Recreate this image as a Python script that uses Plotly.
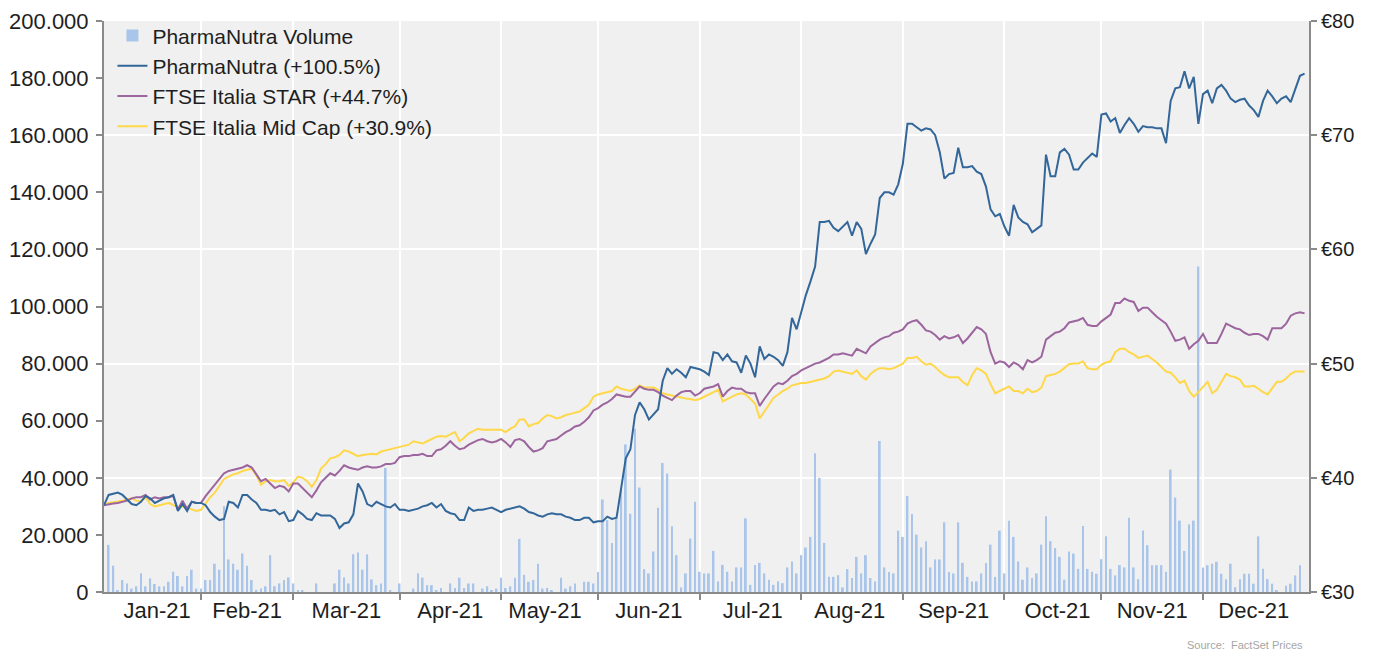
import pandas as pd
import plotly.graph_objects as go

# ---- x categories: every weekday of 2021 (261 sessions) ----
dates = pd.bdate_range("2021-01-01", "2021-12-31")

# ---- PharmaNutra price (EUR), month by month ----
pharma_jan = [37.6, 38.5, 38.6, 38.7, 38.5, 38.1, 37.7, 37.6, 37.9, 38.4, 38.2, 37.8, 38.0, 38.2, 38.3, 38.5, 37.1, 37.7, 37.1, 37.9, 37.8]
pharma_feb = [37.8, 37.6, 37.0, 36.6, 36.3, 36.4, 37.9, 37.8, 37.4, 38.5, 38.5, 38.1, 37.8, 37.2, 37.2, 37.1, 37.2, 36.8, 37.0, 36.2]
pharma_mar = [36.3, 37.1, 36.8, 36.4, 36.3, 36.9, 36.7, 36.7, 36.7, 36.4, 35.6, 36.0, 36.1, 36.8, 39.5, 38.8, 37.7, 37.5, 37.9, 37.7, 37.5, 37.4, 37.7]
pharma_apr = [37.2, 37.2, 37.1, 37.2, 37.3, 37.5, 37.6, 37.8, 37.4, 37.7, 37.1, 36.9, 36.8, 36.3, 36.3, 37.4, 37.1, 37.2, 37.2, 37.3, 37.4, 37.2]
pharma_may = [37.0, 37.2, 37.3, 37.4, 37.5, 37.3, 37.0, 36.9, 36.7, 36.6, 36.8, 36.9, 36.8, 36.8, 36.6, 36.5, 36.3, 36.3, 36.5, 36.5, 36.1]
pharma_jun = [36.2, 36.2, 36.6, 36.4, 36.5, 39.0, 41.7, 42.5, 45.5, 46.6, 46.0, 45.1, 45.6, 46.0, 48.5, 49.6, 49.1, 49.5, 49.2, 48.8, 49.7, 49.6]
pharma_jul = [49.5, 49.3, 49.0, 51.0, 50.9, 50.3, 50.8, 50.2, 50.1, 49.2, 50.7, 50.0, 48.8, 51.5, 50.4, 50.8, 50.6, 50.3, 49.8, 51.0, 54.0, 53.0]
pharma_aug = [54.5, 56.0, 57.2, 58.5, 62.4, 62.4, 62.5, 61.9, 61.6, 62.0, 62.4, 61.2, 62.4, 61.8, 59.6, 60.5, 61.3, 64.5, 65.0, 65.0, 64.8, 65.7]
pharma_sep = [67.5, 71.0, 71.0, 70.7, 70.4, 70.6, 70.5, 70.0, 68.5, 66.2, 66.6, 66.7, 68.9, 67.2, 67.2, 67.3, 66.8, 66.6, 65.5, 63.5, 62.9, 63.1]
pharma_oct = [62.0, 61.2, 63.9, 62.8, 62.4, 62.2, 61.5, 61.8, 62.1, 68.3, 66.4, 66.4, 68.5, 68.8, 68.3, 67.0, 67.0, 67.6, 68.0, 68.4, 68.1]
pharma_nov = [71.8, 71.9, 71.2, 71.5, 70.2, 70.9, 71.5, 71.0, 70.3, 70.8, 70.7, 70.7, 70.6, 70.6, 69.3, 73.0, 74.1, 74.2, 75.6, 74.1, 75.1, 71.0]
pharma_dec = [73.6, 73.9, 72.8, 74.1, 74.4, 73.9, 73.2, 72.9, 73.1, 73.2, 72.6, 72.2, 71.6, 73.0, 73.9, 73.4, 72.8, 73.2, 73.4, 72.9, 74.1, 75.2, 75.4]

# ---- FTSE Italia STAR (rebased to PharmaNutra, EUR) ----
star_jan = [37.6, 37.7, 37.75, 37.8, 37.9, 38.0, 38.2, 38.3, 38.3, 38.5, 38.1, 38.3, 38.2, 38.3, 38.3, 38.4, 37.2, 38.0, 37.3, 37.9, 37.8]
star_feb = [37.8, 38.4, 38.9, 39.3, 39.9, 40.4, 40.6, 40.7, 40.8, 40.9, 41.1, 40.9, 40.3, 39.7, 39.9, 39.5, 39.1, 39.3, 39.2, 38.8]
star_mar = [39.5, 39.5, 39.1, 38.7, 38.3, 38.9, 39.6, 40.0, 40.4, 40.2, 40.6, 41.1, 40.9, 40.8, 40.7, 40.9, 41.0, 40.9, 40.9, 41.0, 41.2, 41.2, 41.3]
star_apr = [41.8, 41.9, 41.9, 42.0, 42.0, 42.1, 41.9, 41.9, 42.4, 42.5, 42.8, 43.2, 42.8, 42.5, 42.6, 42.9, 43.1, 43.3, 43.4, 43.2, 43.1, 43.2]
star_may = [43.4, 43.1, 42.7, 43.3, 43.4, 43.2, 42.7, 42.3, 42.4, 42.6, 43.2, 43.3, 43.4, 43.7, 44.0, 44.2, 44.5, 44.6, 44.9, 45.3, 45.9]
star_jun = [46.1, 46.4, 46.6, 46.9, 47.3, 47.2, 47.1, 47.1, 47.6, 48.0, 47.8, 47.7, 47.7, 47.5, 47.2, 47.0, 46.8, 47.2, 47.5, 47.6, 47.6, 47.2]
star_jul = [47.4, 47.8, 47.9, 48.0, 48.2, 47.1, 47.6, 47.9, 47.8, 47.8, 47.5, 47.4, 47.4, 46.3, 46.9, 47.5, 48.0, 48.3, 48.2, 48.5, 48.9, 49.1]
star_aug = [49.4, 49.6, 49.8, 50.0, 50.1, 50.3, 50.5, 50.8, 50.8, 50.9, 50.8, 50.7, 51.3, 51.1, 50.9, 51.5, 51.8, 52.1, 52.3, 52.4, 52.7, 52.8]
star_sep = [53.0, 53.5, 53.7, 53.8, 53.4, 52.9, 52.8, 52.5, 52.1, 52.4, 52.2, 52.3, 52.5, 51.8, 52.2, 52.7, 53.2, 53.0, 52.6, 51.0, 50.0, 50.2]
star_oct = [50.1, 49.7, 50.1, 49.9, 49.5, 50.3, 50.1, 50.3, 50.6, 52.1, 52.4, 52.7, 52.8, 53.1, 53.6, 53.7, 53.8, 54.0, 53.4, 53.3, 53.3]
star_nov = [53.7, 54.0, 54.3, 55.3, 55.3, 55.7, 55.5, 55.4, 54.6, 54.9, 54.9, 54.5, 54.1, 53.8, 53.5, 52.8, 52.0, 52.1, 52.3, 51.3, 51.7, 52.0]
star_dec = [52.6, 51.8, 51.8, 51.8, 52.6, 53.5, 53.3, 53.1, 53.0, 52.7, 52.5, 52.6, 52.6, 52.4, 52.1, 53.1, 53.1, 53.1, 53.5, 54.2, 54.4, 54.5, 54.4]

# ---- FTSE Italia Mid Cap (rebased to PharmaNutra, EUR) ----
mid_jan = [37.6, 37.8, 37.85, 37.9, 38.0, 38.1, 38.2, 38.0, 37.95, 38.3, 37.7, 37.5, 37.6, 37.7, 37.8, 37.6, 37.4, 37.5, 37.35, 37.2, 37.1]
mid_feb = [37.2, 37.8, 38.3, 38.7, 39.3, 39.9, 40.1, 40.3, 40.4, 40.6, 40.7, 40.8, 40.2, 39.4, 39.7, 39.8, 39.7, 39.7, 39.8, 39.3]
mid_mar = [39.6, 40.1, 40.0, 39.7, 39.2, 39.8, 40.8, 41.2, 41.7, 41.8, 42.0, 42.4, 42.3, 42.1, 41.9, 42.0, 42.05, 42.1, 42.05, 42.3, 42.4, 42.5, 42.6]
mid_apr = [42.7, 42.8, 42.9, 43.2, 43.1, 43.0, 43.2, 43.4, 43.6, 43.65, 43.6, 43.8, 44.0, 43.2, 43.5, 43.9, 44.1, 44.3, 44.2, 44.2, 44.2, 44.2]
mid_may = [44.2, 44.0, 44.3, 44.5, 45.1, 45.1, 44.5, 44.7, 44.8, 45.2, 45.5, 45.4, 45.2, 45.3, 45.5, 45.6, 45.7, 45.8, 46.1, 46.4, 47.1]
mid_jun = [47.3, 47.4, 47.5, 47.6, 48.0, 47.8, 47.7, 47.6, 47.8, 48.1, 47.9, 47.9, 47.9, 47.7, 47.4, 47.3, 47.2, 47.1, 47.0, 46.95, 46.9, 46.8]
mid_jul = [46.9, 47.1, 47.3, 47.5, 47.7, 46.7, 46.9, 47.1, 47.3, 47.4, 47.3, 46.9, 46.5, 45.2, 45.8, 46.4, 47.0, 47.3, 47.6, 47.8, 48.1, 48.2]
mid_aug = [48.3, 48.3, 48.4, 48.5, 48.6, 48.7, 48.9, 49.3, 49.4, 49.3, 49.2, 49.1, 49.4, 48.9, 48.6, 49.1, 49.4, 49.6, 49.6, 49.5, 49.6, 49.8]
mid_sep = [50.0, 50.5, 50.5, 50.6, 50.2, 49.9, 50.0, 49.7, 49.3, 49.0, 48.8, 48.8, 48.8, 48.4, 48.1, 49.0, 49.6, 49.4, 49.1, 48.2, 47.4, 47.6]
mid_oct = [47.8, 48.0, 47.6, 47.6, 47.4, 47.8, 47.5, 47.6, 47.9, 48.9, 49.0, 49.1, 49.3, 49.6, 49.95, 50.0, 50.0, 50.2, 49.6, 49.5, 49.5]
mid_nov = [49.9, 50.1, 50.2, 51.0, 51.3, 51.3, 51.0, 50.8, 50.5, 50.6, 50.7, 50.4, 50.1, 49.7, 49.3, 49.2, 48.8, 48.3, 48.5, 47.6, 47.1, 47.5]
mid_dec = [48.0, 48.4, 47.4, 47.7, 48.4, 49.1, 48.9, 48.8, 48.6, 48.0, 48.0, 48.05, 47.8, 47.5, 47.3, 47.9, 48.4, 48.4, 48.7, 49.1, 49.3, 49.3, 49.3]

# ---- PharmaNutra volume (thousands of shares) ----
vol_jan = [0, 16.5, 9.2, 0.5, 4.2, 3.0, 1.2, 2.0, 6.6, 2.0, 4.8, 2.8, 2.0, 2.0, 3.6, 7.1, 5.6, 2.0, 5.6, 7.8, 1.2]
vol_feb = [1.2, 4.2, 4.2, 9.9, 7.8, 30.0, 11.4, 9.9, 7.8, 13.5, 9.2, 4.2, 0.6, 1.2, 2.0, 12.9, 2.0, 3.0, 4.2, 5.1]
vol_mar = [3.0, 0.6, 0.6, 0, 0, 3.0, 0, 0, 0, 3.0, 7.8, 5.1, 3.0, 13.2, 13.8, 7.8, 13.2, 4.4, 2.4, 3.0, 43.5, 0.6, 0]
vol_apr = [3.0, 0, 0, 1.2, 6.6, 5.0, 2.4, 2.4, 0.6, 1.4, 0, 3.0, 1.4, 5.0, 1.4, 3.0, 3.0, 0, 1.2, 2.0, 0.6, 1.2]
vol_may = [5.0, 1.4, 2.0, 5.0, 18.6, 6.0, 3.6, 4.2, 9.9, 1.2, 1.4, 0.6, 0, 5.0, 1.2, 2.0, 3.0, 0, 3.6, 3.6, 3.0]
vol_jun = [7.0, 32.4, 25.2, 17.2, 25.8, 36.3, 51.7, 27.4, 57.2, 36.6, 8.0, 6.5, 14.2, 29.5, 45.2, 41.5, 23.0, 12.9, 1.6, 6.5, 18.7, 31.6]
vol_jul = [7.1, 6.5, 6.5, 14.4, 3.7, 9.5, 7.1, 3.7, 8.6, 8.6, 25.8, 2.5, 9.5, 10.2, 6.5, 4.3, 2.5, 3.7, 3.1, 8.6, 10.7, 6.5]
vol_aug = [12.9, 15.6, 19.3, 48.6, 40.0, 17.2, 5.3, 5.3, 5.9, 1.6, 8.0, 4.9, 12.3, 6.5, 12.9, 4.9, 3.7, 52.9, 8.6, 7.0, 6.5, 21.5]
vol_sep = [19.3, 33.6, 27.3, 20.1, 15.6, 17.8, 8.6, 11.4, 11.4, 24.4, 7.0, 6.5, 24.4, 10.2, 5.3, 3.7, 3.7, 6.5, 10.2, 16.6, 5.3, 21.5]
vol_oct = [6.5, 25.0, 19.3, 10.7, 4.3, 8.6, 4.9, 6.5, 16.6, 26.5, 17.8, 15.4, 12.3, 4.3, 14.2, 13.5, 8.1, 23.1, 8.1, 7.1, 6.4]
vol_nov = [11.5, 19.5, 8.1, 5.8, 9.4, 8.6, 26.0, 8.6, 4.5, 21.5, 16.4, 9.4, 9.4, 9.4, 7.1, 42.9, 33.1, 25.0, 14.4, 23.7, 25.0, 114.0]
vol_dec = [8.6, 9.4, 9.9, 10.6, 6.4, 4.5, 9.9, 1.7, 4.5, 6.4, 6.4, 2.9, 19.5, 8.1, 4.5, 2.9, 0.6, 0, 2.2, 2.9, 5.8, 9.4, 0]

pharma = (pharma_jan + pharma_feb + pharma_mar + pharma_apr + pharma_may + pharma_jun +
          pharma_jul + pharma_aug + pharma_sep + pharma_oct + pharma_nov + pharma_dec)
star = (star_jan + star_feb + star_mar + star_apr + star_may + star_jun +
        star_jul + star_aug + star_sep + star_oct + star_nov + star_dec)
mid = (mid_jan + mid_feb + mid_mar + mid_apr + mid_may + mid_jun +
       mid_jul + mid_aug + mid_sep + mid_oct + mid_nov + mid_dec)
vol_k = (vol_jan + vol_feb + vol_mar + vol_apr + vol_may + vol_jun +
         vol_jul + vol_aug + vol_sep + vol_oct + vol_nov + vol_dec)
volume = [v * 1000 for v in vol_k]

names = ["PharmaNutra Volume", "PharmaNutra (+100.5%)",
         "FTSE Italia STAR (+44.7%)", "FTSE Italia Mid Cap (+30.9%)"]

FONT = "Liberation Sans, Arial, sans-serif"
TXT = "#1e1e1e"
AX = "#8a8a8a"

fig = go.Figure()
fig.add_trace(go.Bar(x=dates, y=volume, name=names[0], yaxis="y",
                     marker=dict(color="#a9c6ea", line=dict(width=0)),
                     width=0.4 * 86400000, legendrank=1))
fig.add_trace(go.Scatter(x=dates, y=mid, name=names[3], yaxis="y2", mode="lines",
                         line=dict(color="#ffd84a", width=2), legendrank=4))
fig.add_trace(go.Scatter(x=dates, y=star, name=names[2], yaxis="y2", mode="lines",
                         line=dict(color="#9c659e", width=2), legendrank=3))
fig.add_trace(go.Scatter(x=dates, y=pharma, name=names[1], yaxis="y2", mode="lines",
                         line=dict(color="#336699", width=2), legendrank=2))

fig.update_layout(
    width=1368, height=646,
    margin=dict(l=96, r=67, t=13, b=62, autoexpand=False),
    paper_bgcolor="white", plot_bgcolor="#f0f0f0",
    separators=",.",
    font=dict(family=FONT, size=21, color=TXT),
    showlegend=True,
    legend=dict(x=0.007, y=1.01, xanchor="left", yanchor="top",
                bgcolor="rgba(0,0,0,0)", font=dict(size=21, color=TXT),
                traceorder="normal", itemwidth=30),
    bargap=0.6,
    xaxis=dict(
        type="date", range=["2021-01-01", "2021-12-31 23:00"],
        rangebreaks=[dict(bounds=["sat", "mon"])],
        dtick="M1", tick0="2021-01-01", tickformat="%b-%y", ticklabelmode="period",
        showgrid=True, gridcolor="white", gridwidth=1.5,
        showline=True, linecolor=AX, linewidth=2, automargin=False,
        ticks="outside", ticklen=6, tickcolor=AX, tickwidth=1.5,
        ticklabelstandoff=-8,
        tickfont=dict(size=22, color=TXT), zeroline=False,
    ),
    yaxis=dict(
        range=[0, 200000], dtick=20000, tickformat=",.0f",
        showgrid=False, zeroline=False, automargin=False,
        showline=True, linecolor=AX, linewidth=2,
        ticks="outside", ticklen=6, tickcolor=AX, tickwidth=1.5,
        ticklabelstandoff=3,
        tickfont=dict(size=22, color=TXT),
    ),
    yaxis2=dict(
        range=[30, 80], dtick=10, tickprefix="€", overlaying="y", side="right",
        showgrid=True, gridcolor="white", gridwidth=1.5, zeroline=False,
        showline=True, linecolor=AX, linewidth=2, automargin=False,
        ticks="outside", ticklen=6, tickcolor=AX, tickwidth=1.5,
        tickfont=dict(size=20, color=TXT),
    ),
    annotations=[dict(text="Source:  FactSet Prices", xref="paper", yref="paper",
                      x=0.997, y=-0.093, xanchor="right", yanchor="middle",
                      showarrow=False, font=dict(size=11, color="#a6a6a6"))],
)

fig.write_html("out.html")
